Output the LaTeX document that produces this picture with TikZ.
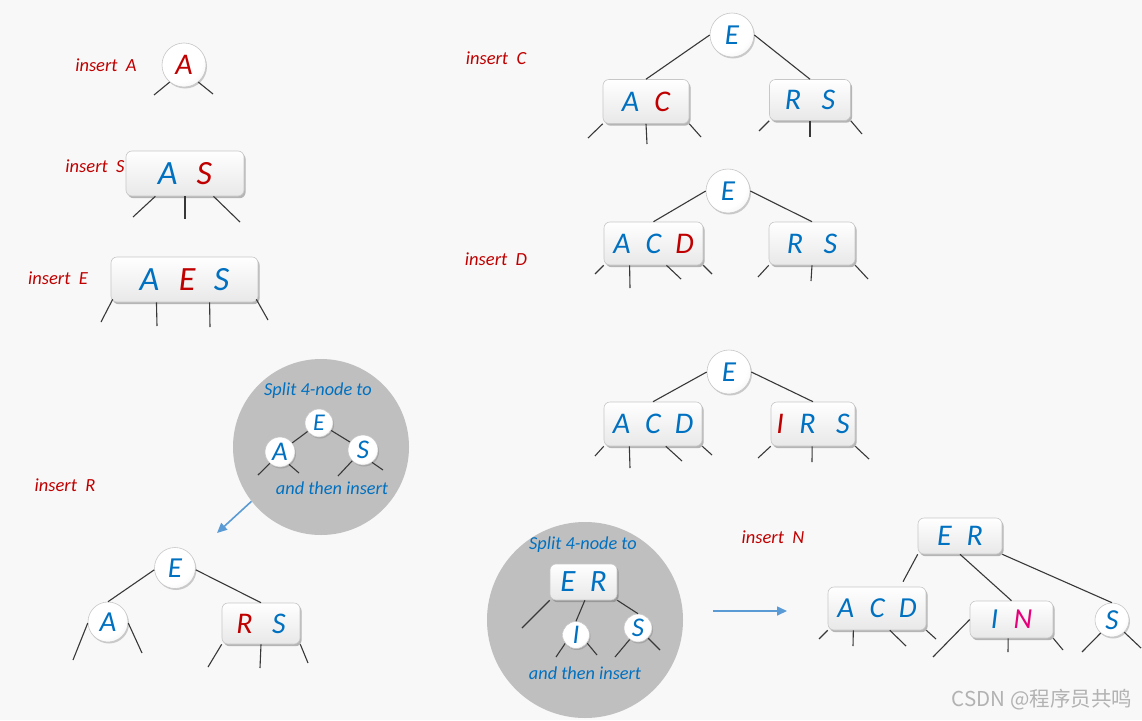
\documentclass[tikz,border=0pt]{standalone}
\usepackage{fontspec}
\setmainfont{Carlito}
\newfontfamily\cjkwm{Noto Sans CJK SC}
\usetikzlibrary{shadows,calc,arrows.meta}
\definecolor{kblue}{RGB}{0,112,192}
\definecolor{kred}{RGB}{192,0,0}
\definecolor{kmag}{RGB}{230,0,122}
\definecolor{arrblue}{RGB}{91,155,213}
\definecolor{bubgray}{RGB}{191,191,191}
\definecolor{bgc}{RGB}{248,248,248}
\pgfdeclareradialshading{sphereshade}{\pgfpoint{-8bp}{10bp}}{color(0bp)=(white); color(26bp)=(white); color(38bp)=(black!6); color(48bp)=(black!20); color(58bp)=(black!36); color(80bp)=(black!40)}
\newcommand\fsz[1]{\fontsize{#1}{#1}\selectfont\itshape}
\newcommand\keyB[1]{\textcolor{kblue}{#1}}
\newcommand\keyR[1]{\textcolor{kred}{#1}}
\newcommand\keyM[1]{\textcolor{kmag}{#1}}
\newcommand\legline[3]{\coordinate (#2) at (#3); \draw[link] #1 -- (#2);}
\begin{document}
\begin{tikzpicture}[x=1pt,y=-1pt,
  box/.style={draw=black!22, line width=0.6pt, rounded corners=6pt, top color=white, bottom color=black!9,
    drop shadow={shadow xshift=1.6pt, shadow yshift=-2.2pt, opacity=0.5, fill=black!55}, inner sep=0pt, text=kblue},
  ball/.style={circle, draw=black!22, line width=0.6pt, shading=sphereshade,
    drop shadow={shadow xshift=1.0pt, shadow yshift=-1.5pt, opacity=0.35, fill=black!55}, inner sep=0pt, text=kblue},
  lab/.style={text=kred, font=\fsz{18.5}},
  note/.style={text=kblue, font=\fsz{18.3}},
  gbub/.style={circle, fill=bubgray, inner sep=0pt},
  link/.style={draw=black!78, line width=1.1pt},
  arr/.style={draw=arrblue, line width=1.6pt, -{Triangle[length=10pt,width=9pt]}}]
\fill[bgc] (0,0) rectangle (1142,720);
\useasboundingbox (0,0) rectangle (1142,720);

% ---------- left column ----------
\node[lab] (labA) at (106,65) {insert\ \ A};
\node[ball, minimum size=44pt, font=\fsz{30}, text=kred] (a1) at (184,65) {A};
\legline{(a1.-130)}{a1l1}{154,95}
\legline{(a1.-50)}{a1l2}{213,94}

\node[lab] (labS) at (95,166) {insert\ \ S};
\node[box, minimum width=118pt, minimum height=45pt, font=\fsz{34}] (as1) at (185,173.5) {\keyB{A}\hspace{19pt}\keyR{S}};
\legline{($(as1.south west)!0.25!(as1.south east)$)}{as1l1}{133,217}
\legline{(as1.south)}{as1l2}{185,219}
\legline{($(as1.south west)!0.74!(as1.south east)$)}{as1l3}{240,222}

\node[lab] (labE) at (58,278) {insert\ \ E};
\node[box, minimum width=147pt, minimum height=45pt, font=\fsz{34}] (aes1) at (184.5,279.5) {\keyB{A}\hspace{19.5pt}\keyR{E}\hspace{18.5pt}\keyB{S}};
\legline{([xshift=2pt,yshift=3pt]aes1.south west)}{aes1l1}{101,322}
\legline{($(aes1.south west)!0.31!(aes1.south east)$)}{aes1l2}{157,326}
\legline{($(aes1.south west)!0.67!(aes1.south east)$)}{aes1l3}{210,327}
\legline{([xshift=-2pt,yshift=3pt]aes1.south east)}{aes1l4}{268,320}

% ---------- left bubble ----------
\node[gbub, minimum size=176pt] (g1) at (321,447) {};
\node[note] (g1t1) at (318,391) {Split 4-node to};
\node[ball, minimum size=28pt, font=\fsz{24}] (e5) at (319,423) {E};
\node[ball, minimum size=30pt, font=\fsz{27}] (a5) at (280,452) {A};
\node[ball, minimum size=30pt, font=\fsz{27}] (s5) at (363,450) {S};
\draw[link] (e5) -- (a5);
\draw[link] (e5) -- (s5);
\legline{(a5.-132)}{a5l1}{258,475}
\legline{(a5.-54)}{a5l2}{299,473}
\legline{(s5.-135)}{s5l1}{338,476}
\legline{(s5.-54)}{s5l2}{383,470}
\node[note] (g1t2) at (332,488) {and then insert};
\coordinate (ar1) at (217,533);
\draw[arr] (g1.218) -- (ar1);

% ---------- bottom-left tree ----------
\node[lab] (labR) at (65,485) {insert\ \ R};
\node[ball, minimum size=41pt, font=\fsz{29}] (e4) at (175,568) {E};
\node[ball, minimum size=40pt, font=\fsz{29}] (a4) at (108,622) {A};
\node[box, minimum width=78pt, minimum height=41pt, font=\fsz{30}] (rs4) at (261,623.5) {\keyR{R}\hspace{19.5pt}\keyB{S}};
\draw[link] (e4.185) -- (a4.north);
\draw[link] (e4.-5) -- (rs4.north);
\legline{(a4.183)}{a4l1}{73,660}
\legline{(a4.-3)}{a4l2}{142,653}
\legline{(rs4.south west)}{rs4l1}{208,667}
\legline{(rs4.south)}{rs4l2}{260,668}
\legline{(rs4.south east)}{rs4l3}{308,663}

% ---------- tree: insert C ----------
\node[lab] (labC) at (496,58) {insert\ \ C};
\node[ball, minimum size=44pt, font=\fsz{29}] (e1) at (732,35) {E};
\node[box, minimum width=86pt, minimum height=44pt, font=\fsz{30}] (ac1) at (646,101.5) {\keyB{A}\hspace{15pt}\keyR{C}};
\node[box, minimum width=81pt, minimum height=41pt, font=\fsz{30}] (rs1) at (810,100) {\keyB{R}\hspace{20.5pt}\keyB{S}};
\draw[link] (e1.180) -- (ac1.north);
\draw[link] (e1.0) -- (rs1.north);
\legline{(ac1.south west)}{ac1l1}{588,138}
\legline{(ac1.south)}{ac1l2}{647,144}
\legline{(ac1.south east)}{ac1l3}{701,137}
\legline{(rs1.south west)}{rs1l1}{759,131}
\legline{(rs1.south)}{rs1l2}{810,137}
\legline{(rs1.south east)}{rs1l3}{862,134}

% ---------- tree: insert D ----------
\node[lab] (labD) at (496,259) {insert\ \ D};
\node[ball, minimum size=44pt, font=\fsz{29}] (e2) at (728,191) {E};
\node[box, minimum width=99pt, minimum height=43pt, font=\fsz{30}] (acd2) at (653.5,243.5) {\keyB{A}\hspace{15pt}\keyB{C}\hspace{14pt}\keyR{D}};
\node[box, minimum width=86pt, minimum height=43pt, font=\fsz{30}] (rs2) at (812,243.5) {\keyB{R}\hspace{20.5pt}\keyB{S}};
\draw[link] (e2.180) -- (acd2.north);
\draw[link] (e2.0) -- (rs2.north);
\legline{(acd2.south west)}{acd2l1}{595,274}
\legline{($(acd2.south west)!0.26!(acd2.south east)$)}{acd2l2}{630,288}
\legline{($(acd2.south west)!0.63!(acd2.south east)$)}{acd2l3}{681,279}
\legline{(acd2.south east)}{acd2l4}{712,274}
\legline{(rs2.south west)}{rs2l1}{758,277}
\legline{(rs2.south)}{rs2l2}{811,281}
\legline{(rs2.south east)}{rs2l3}{868,279}

% ---------- tree: insert I ----------
\node[ball, minimum size=44pt, font=\fsz{29}] (e3) at (729,372) {E};
\node[box, minimum width=98pt, minimum height=44pt, font=\fsz{30}] (acd3) at (653,424) {\keyB{A}\hspace{15pt}\keyB{C}\hspace{14pt}\keyB{D}};
\node[box, minimum width=84pt, minimum height=44pt, font=\fsz{30}] (irs3) at (813,424) {\keyR{I}\hspace{15.5pt}\keyB{R}\hspace{20.5pt}\keyB{S}};
\draw[link] (e3.180) -- (acd3.north);
\draw[link] (e3.0) -- (irs3.north);
\legline{(acd3.south west)}{acd3l1}{595,456}
\legline{($(acd3.south west)!0.26!(acd3.south east)$)}{acd3l2}{630,468}
\legline{($(acd3.south west)!0.63!(acd3.south east)$)}{acd3l3}{682,461}
\legline{(acd3.south east)}{acd3l4}{712,455}
\legline{(irs3.south west)}{irs3l1}{758,458}
\legline{($(irs3.south west)!0.49!(irs3.south east)$)}{irs3l2}{812,462}
\legline{(irs3.south east)}{irs3l3}{869,459}

% ---------- right bubble ----------
\node[gbub, minimum size=196pt] (g2) at (585,620) {};
\node[note] (g2t1) at (583,545) {Split 4-node to};
\node[box, minimum width=67pt, minimum height=36pt, font=\fsz{31}] (er6) at (583.5,582) {\keyB{E}\hspace{14.5pt}\keyB{R}};
\node[ball, minimum size=27pt, font=\fsz{27}] (i6) at (576,635) {I};
\node[ball, minimum size=28pt, font=\fsz{27}] (s6) at (638,628) {S};
\legline{(er6.south west)}{er6l1}{522,628}
\draw[link] ($(er6.south west)!0.52!(er6.south east)$) -- (i6.north);
\draw[link] (er6.south east) -- (s6.north);
\legline{(i6.-142)}{i6l1}{556,657}
\legline{(i6.-36)}{i6l2}{597,655}
\legline{(s6.-126)}{s6l1}{615,657}
\legline{(s6.-45)}{s6l2}{660,650}
\node[note] (g2t2) at (585,673) {and then insert};
\coordinate (ar2s) at (713,611);
\coordinate (ar2e) at (787,611);
\draw[arr] (ar2s) -- (ar2e);

% ---------- final tree: insert N ----------
\node[lab] (labN) at (773,537) {insert\ \ N};
\node[box, minimum width=84pt, minimum height=36pt, font=\fsz{30}] (er7) at (960,536) {\keyB{E}\hspace{15pt}\keyB{R}};
\node[box, minimum width=98pt, minimum height=43pt, font=\fsz{29}] (acd7) at (877,608.5) {\keyB{A}\hspace{15.5pt}\keyB{C}\hspace{14pt}\keyB{D}};
\node[box, minimum width=83pt, minimum height=37pt, font=\fsz{29}] (in7) at (1011.5,619.5) {\keyB{I}\hspace{15.5pt}\keyM{N}};
\node[ball, minimum size=34pt, font=\fsz{29}] (s7) at (1112,620) {S};
\draw[link] (er7.south west) -- ([xshift=26pt,yshift=5pt]acd7.north);
\draw[link] (er7.south) -- (in7.north);
\draw[link] (er7.south east) -- (s7.north);
\legline{(acd7.south west)}{acd7l1}{819,639}
\legline{($(acd7.south west)!0.26!(acd7.south east)$)}{acd7l2}{853,646}
\legline{($(acd7.south west)!0.63!(acd7.south east)$)}{acd7l3}{906,646}
\legline{(acd7.south east)}{acd7l4}{936,639}
\legline{(in7.west)}{in7l1}{933,657}
\legline{($(in7.south west)!0.46!(in7.south east)$)}{in7l2}{1008,652}
\legline{(in7.south east)}{in7l3}{1063,650}
\legline{(s7.-131)}{s7l1}{1082,652}
\legline{(s7.-45)}{s7l2}{1141,648}

\node[text=black!30, font=\cjkwm\fontsize{20.5}{20.5}\selectfont] (wm) at (1042,700) {CSDN @程序员共鸣};
\end{tikzpicture}
\end{document}
